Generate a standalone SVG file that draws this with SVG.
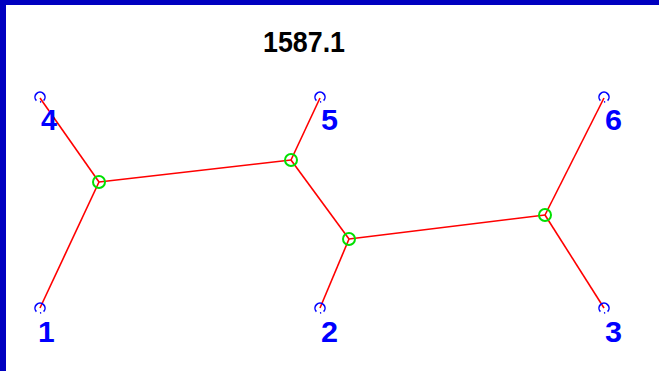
<svg xmlns="http://www.w3.org/2000/svg" width="659" height="371" viewBox="0 0 659 371">
<style>
.edge{stroke:#ff0000;stroke-width:1.6;fill:none}
.leaf{stroke:#0000ff;stroke-width:1.6;fill:none}
.inner{stroke:#00e000;stroke-width:2;fill:none}
.lbl{font-family:"Liberation Sans",Arial,sans-serif;font-weight:bold;font-size:30px;fill:#0000ff}
.title{font-family:"Liberation Sans",Arial,sans-serif;font-weight:bold;font-size:30px;fill:#000000}
</style>
<defs>
<path id="leafmark" class="leaf" d="M 3.6 3.6 A 5 5 0 1 0 -3.6 3.6 M 1.2 4.8 L 0 5" />
</defs>
<rect x="0" y="0" width="659" height="371" fill="#ffffff"/>
<rect x="0" y="0" width="659" height="5" fill="#0000c0"/>
<rect x="0" y="0" width="6" height="371" fill="#0000c0"/>
<text class="title" x="263" y="52" textLength="82" lengthAdjust="spacingAndGlyphs">1587.1</text>
<g id="connectors">
<line class="edge" x1="40" y1="98" x2="99" y2="182"/>
<line class="edge" x1="40" y1="308" x2="99" y2="182"/>
<line class="edge" x1="99" y1="182" x2="291" y2="160"/>
<line class="edge" x1="291" y1="160" x2="320" y2="98"/>
<line class="edge" x1="291" y1="160" x2="349" y2="239"/>
<line class="edge" x1="349" y1="239" x2="320" y2="308"/>
<line class="edge" x1="349" y1="239" x2="545" y2="215"/>
<line class="edge" x1="545" y1="215" x2="604" y2="98"/>
<line class="edge" x1="545" y1="215" x2="604" y2="308"/>
</g>
<g id="n4"><use href="#leafmark" x="40" y="97"/><text class="lbl" x="41" y="130" textLength="16" lengthAdjust="spacingAndGlyphs">4</text></g>
<g id="n5"><use href="#leafmark" x="320" y="97"/><text class="lbl" x="321" y="130" textLength="17" lengthAdjust="spacingAndGlyphs">5</text></g>
<g id="n6"><use href="#leafmark" x="604" y="97"/><text class="lbl" x="605" y="130" textLength="17" lengthAdjust="spacingAndGlyphs">6</text></g>
<g id="n1"><use href="#leafmark" x="40" y="308"/><text class="lbl" x="38" y="342">1</text></g>
<g id="n2"><use href="#leafmark" x="320" y="308"/><text class="lbl" x="321" y="342" textLength="17" lengthAdjust="spacingAndGlyphs">2</text></g>
<g id="n3"><use href="#leafmark" x="604" y="308"/><text class="lbl" x="605" y="342" textLength="17" lengthAdjust="spacingAndGlyphs">3</text></g>
<g id="iA"><circle class="inner" cx="99" cy="182" r="6"/></g>
<g id="iB"><circle class="inner" cx="291" cy="160" r="6"/></g>
<g id="iC"><circle class="inner" cx="349" cy="239" r="6"/></g>
<g id="iD"><circle class="inner" cx="545" cy="215" r="6"/></g>
</svg>
